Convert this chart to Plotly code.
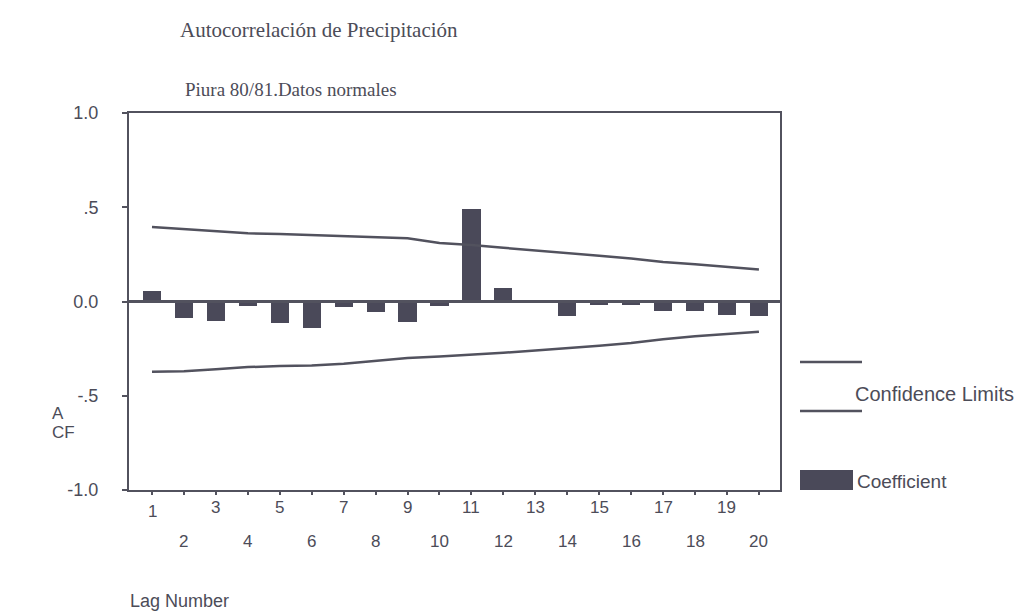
import plotly.graph_objects as go

# Autocorrelation coefficients by lag
lags = list(range(1, 21))
coefficients = [0.055, -0.087, -0.105, -0.025, -0.113, -0.14, -0.03, -0.057, -0.11, -0.025,
                0.49, 0.07, 0.01, -0.075, -0.02, -0.02, -0.05, -0.05, -0.07, -0.075]
# Confidence limits
upper_limit = [0.395, 0.385, 0.372, 0.362, 0.358, 0.352, 0.348, 0.342, 0.335, 0.31,
               0.30, 0.285, 0.272, 0.258, 0.243, 0.228, 0.21, 0.197, 0.184, 0.17]
lower_limit = [-0.373, -0.37, -0.36, -0.348, -0.342, -0.34, -0.33, -0.315, -0.30, -0.292,
               -0.283, -0.272, -0.26, -0.248, -0.235, -0.22, -0.20, -0.185, -0.172, -0.16]
y_ticks = [-1.0, -0.5, 0.0, 0.5, 1.0]
y_tick_labels = ["-1.0", "-.5", "0.0", ".5", "1.0"]

W, H = 1019, 612
L, R, T, B = 129, 780, 113, 490
INK = "#52525e"
BAR = "#4a4959"
TXT = "#4c4c58"
SANS = "Liberation Sans, Arial"
SERIF = "Liberation Serif, Times New Roman"


def px(x):
    return (x - L) / (R - L)


def py(y):
    return (B - y) / (B - T)


fig = go.Figure()
fig.add_trace(go.Bar(x=lags, y=coefficients, width=0.57, marker_color=BAR,
                     marker_line_width=0, showlegend=False))
fig.add_trace(go.Scatter(x=lags, y=upper_limit, mode="lines",
                         line=dict(color=INK, width=2.5), showlegend=False))
fig.add_trace(go.Scatter(x=lags, y=lower_limit, mode="lines",
                         line=dict(color=INK, width=2.5), showlegend=False))

# zero reference line across the plot
fig.add_shape(type="line", xref="paper", yref="y", x0=0, x1=1, y0=0, y1=0,
              line=dict(color=INK, width=3), layer="above")

annotations = []
# two staggered rows of lag labels
for lag in lags:
    row_y = 507 if lag % 2 == 1 else 541
    if lag == 1:
        row_y = 511
    annotations.append(dict(x=lag, y=py(row_y), xref="x", yref="paper", text=str(lag),
                            showarrow=False, xanchor="center", yanchor="middle",
                            font=dict(family=SANS, size=17, color=TXT)))

annotations += [
    dict(x=px(178), y=py(30), xref="paper", yref="paper", text="Autocorrelación de Precipitación",
         showarrow=False, xanchor="left", yanchor="middle",
         font=dict(family=SERIF, size=21, color=TXT)),
    dict(x=px(183), y=py(90), xref="paper", yref="paper", text="Piura 80/81.Datos normales",
         showarrow=False, xanchor="left", yanchor="middle",
         font=dict(family=SERIF, size=19, color=TXT)),
    dict(x=px(50), y=py(413), xref="paper", yref="paper", text="A",
         showarrow=False, xanchor="left", yanchor="middle",
         font=dict(family=SANS, size=17, color=TXT)),
    dict(x=px(50), y=py(432), xref="paper", yref="paper", text="CF",
         showarrow=False, xanchor="left", yanchor="middle",
         font=dict(family=SANS, size=17, color=TXT)),
    dict(x=px(128), y=py(601), xref="paper", yref="paper", text="Lag Number",
         showarrow=False, xanchor="left", yanchor="middle",
         font=dict(family=SANS, size=18, color=TXT)),
    dict(x=px(853), y=py(394), xref="paper", yref="paper", text="Confidence Limits",
         showarrow=False, xanchor="left", yanchor="middle",
         font=dict(family=SANS, size=20, color=TXT)),
    dict(x=px(855), y=py(481), xref="paper", yref="paper", text="Coefficient",
         showarrow=False, xanchor="left", yanchor="middle",
         font=dict(family=SANS, size=19, color=TXT)),
]

# legend glyphs
fig.add_shape(type="line", xref="paper", yref="paper", x0=px(800), x1=px(862),
              y0=py(362), y1=py(362), line=dict(color=INK, width=2.5))
fig.add_shape(type="line", xref="paper", yref="paper", x0=px(800), x1=px(862),
              y0=py(411), y1=py(411), line=dict(color=INK, width=2.5))
fig.add_shape(type="rect", xref="paper", yref="paper", x0=px(800), x1=px(853),
              y0=py(490), y1=py(470), fillcolor=BAR, line=dict(width=0))

fig.update_layout(
    width=W, height=H,
    margin=dict(l=L, r=W - R, t=T, b=H - B, pad=0),
    paper_bgcolor="white", plot_bgcolor="white",
    bargap=0, showlegend=False,
    annotations=annotations,
    xaxis=dict(range=[0.28, 20.66], tickvals=lags, showticklabels=False,
               ticks="outside", ticklen=3, tickwidth=2, tickcolor=INK,
               showline=True, linecolor=INK, linewidth=2, mirror=True,
               showgrid=False, zeroline=False),
    yaxis=dict(range=[-1, 1], tickvals=y_ticks, ticktext=y_tick_labels,
               ticks="outside", ticklen=5, tickwidth=2, tickcolor=INK,
               ticklabelstandoff=20,
               tickfont=dict(family=SANS, size=18, color=TXT),
               showline=True, linecolor=INK, linewidth=2, mirror=True,
               showgrid=False, zeroline=False),
)

fig.write_html("out.html")
